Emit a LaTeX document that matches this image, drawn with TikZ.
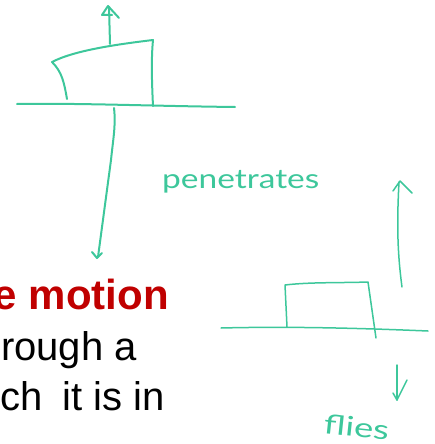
\documentclass[tikz,border=0pt]{standalone}
\usepackage{fontspec}
\setmainfont{Liberation Sans}
\newfontfamily\handfont{Lato}
\definecolor{pen}{RGB}{61,199,155}
\definecolor{redtxt}{RGB}{192,0,0}
\begin{document}
\begin{tikzpicture}[x=1pt,y=-1pt,
  stroke/.style={draw=pen,line width=2pt,line cap=round,line join=round},
  thin stroke/.style={draw=pen,line width=1.5pt,line cap=round,line join=round},
  hand/.style={text=pen,inner sep=0pt,font=\handfont\fontsize{27}{27}\selectfont},
  body/.style={inner sep=0pt,anchor=base east,font=\fontsize{40}{40}\selectfont}]
\useasboundingbox (0,0) rectangle (435,444);
\clip (0,0) rectangle (435,444);
% text fragments
\node[body,text=redtxt,font=\bfseries\fontsize{42}{42}\selectfont] (t1) at (169,309) {e motion};
\node[body] (t2) at (137,360) {rough a};
\node[body] (t3) at (165,410) {ch\hspace{9pt} it is in};
% top sketch
\coordinate (g1) at (17,104);
\coordinate (g2) at (235,107);
\draw[stroke] (g1) .. controls (80,103) and (150,106) .. (g2);
\coordinate (bl) at (67,99);
\coordinate (btl) at (52,62);
\coordinate (btr) at (153,40);
\coordinate (bbr) at (153,106);
\draw[stroke] (bl) .. controls (64,82) and (62,72) .. (btl)
  .. controls (75,50) and (120,44) .. (btr)
  .. controls (151,60) and (152,85) .. (bbr);
\coordinate (ua1) at (110,44);
\coordinate (ua2) at (109,7);
\draw[stroke] (ua1) -- (ua2);
\draw[stroke] (112,15) -- (102,15) -- (108,6) -- (119,18);
\coordinate (da1) at (114,108);
\coordinate (da2) at (98,257);
\draw[stroke] (da1) .. controls (116,125) and (113,140) .. (111,160) -- (da2);
\draw[stroke] (92,252) -- (97,258) -- (102,253);
\node[hand,anchor=base west] (pen) at (162,188) {\scalebox{1.24}[1]{penetrates}};
% bottom right sketch
\coordinate (h1) at (221,328);
\coordinate (h2) at (428,331);
\draw[thin stroke] (h1) .. controls (300,326) and (380,329) .. (h2);
\coordinate (c1) at (287,327);
\coordinate (c2) at (285,285);
\coordinate (c3) at (368,282);
\coordinate (c4) at (376,338);
\draw[thin stroke] (c1) -- (c2) .. controls (310,282) and (340,283) .. (c3) -- (c4);
\coordinate (ra1) at (402,287);
\coordinate (ra2) at (399,182);
\draw[thin stroke] (ra1) .. controls (397,250) and (397,220) .. (ra2);
\draw[thin stroke] (393,191) -- (400,181) -- (412,193);
\coordinate (rd1) at (397,365);
\coordinate (rd2) at (397,400);
\draw[thin stroke] (rd1) -- (rd2);
\draw[thin stroke] (393,393) -- (397,400) -- (407,380);
\node[hand,anchor=base west,rotate=-6] (fl) at (323,433) {\scalebox{1.35}[1]{flies}};
\end{tikzpicture}
\end{document}
